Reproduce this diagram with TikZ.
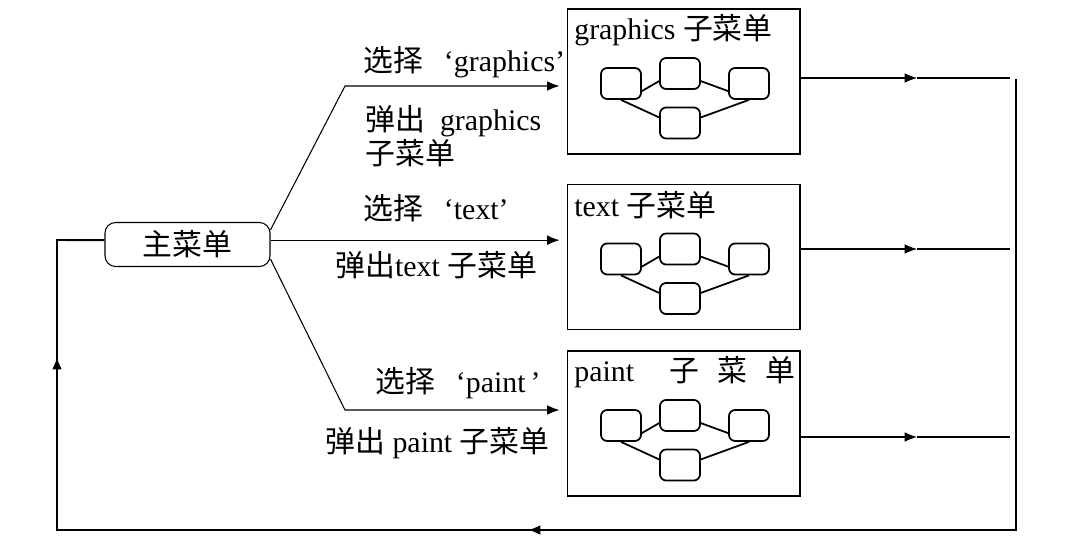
\documentclass[tikz,border=0pt]{standalone}
\usepackage{fontspec}
\setmainfont{Liberation Serif}
\newfontfamily\cjk{Noto Sans CJK SC}
\newcommand{\zh}[1]{{\cjk #1}}
\usetikzlibrary{calc,arrows.meta}

\begin{document}
\begin{tikzpicture}[x=0.02cm, y=-0.02cm,
	font=\fontsize{17}{19}\selectfont,
	menu/.style={draw, rounded corners=6pt, minimum width=3.3cm, minimum height=0.88cm, line width=0.6pt},
	sub/.style={draw, minimum width=4.66cm, minimum height=2.9cm, line width=0.6pt},
	item/.style={draw, rounded corners=3.5pt, minimum width=0.8cm, minimum height=0.62cm, line width=1pt},
	lbl/.style={anchor=west, inner sep=0pt},
	link/.style={line width=0.6pt},
	bus/.style={line width=1.1pt},
	tip/.style={-{Latex[length=7pt,width=5.5pt]}}]
		\useasboundingbox (0,0) rectangle (1069,545);
		% menus
		\node[menu] (main) at (187.5,244.5) {\zh{主菜单}};
		\node[sub] (gra) at (683.5,81.5) {};
		\node[sub] (txt) at (683.5,257) {};
		\node[sub] (pnt) at (683.5,423.5) {};
		\node[lbl] (gra-title) at (574,30) {graphics \zh{子菜单}};
		\node[lbl] (txt-title) at (574,205) {text \zh{子菜单}};
		\node[lbl] (pnt-title) at (574,372) {paint\hspace{1.2em}\zh{子\hspace{0.6em}菜\hspace{0.6em}单}};
		% small item boxes inside each submenu
		\foreach \b in {gra,txt,pnt} {
			\node[item] (\b-l) at ($(\b)+(-62.5,2)$) {};
			\node[item] (\b-t) at ($(\b)+(-3.5,-8)$) {};
			\node[item] (\b-r) at ($(\b)+(65.5,2)$) {};
			\node[item] (\b-d) at ($(\b)+(-3.5,41.5)$) {};
			\draw[line width=1pt] (\b-l.-20) -- (\b-t.200) (\b-t.-20) -- (\b-r.200)
				(\b-l.south) -- (\b-d.165) (\b-d.15) -- (\b-r.south);
		}
		% branches
		\coordinate (k1) at (345,86);
		\coordinate (k3) at (345,410);
		\draw[link,tip,shorten >=0.14cm] (main.10) -- (k1) -- (k1 -| gra.west);
		\draw[link,tip,shorten >=0.14cm] (main.3) -- (main.3 -| txt.west);
		\draw[link,tip,shorten >=0.14cm] (main.-10) -- (k3) -- (k3 -| pnt.west);
		\node[lbl] (sel1) at (363,62) {\zh{选择}\hspace{0.7em}‘graphics’};
		\node[lbl, align=left] (pop1) at (365,136) {\zh{弹出}\hspace{0.5em}graphics\\\zh{子菜单}};
		\node[lbl] (sel2) at (363,208) {\zh{选择}\hspace{0.7em}‘text’};
		\node[lbl] (pop2) at (335,265) {\zh{弹出}text \zh{子菜单}};
		\node[lbl] (sel3) at (375,383) {\zh{选择}\hspace{0.7em}‘paint\,’};
		\node[lbl] (pop3) at (325,443) {\zh{弹出} paint \zh{子菜单}};
		% return path
		\coordinate (arrX) at (917,0);
		\coordinate (o1) at (1010,78);
		\coordinate (o2) at (1010,249);
		\coordinate (o3) at (1010,437);
		\draw[link,tip] (o1 -| gra.east) -- (o1 -| arrX);
		\draw[bus] (o1 -| arrX) -- (o1);
		\draw[link,tip] (o2 -| txt.east) -- (o2 -| arrX);
		\draw[bus] (o2 -| arrX) -- (o2);
		\draw[link,tip] (o3 -| pnt.east) -- (o3 -| arrX);
		\draw[bus] (o3 -| arrX) -- (o3);
		\coordinate (busT) at (1016,79);
		\coordinate (busB) at (1016,530);
		\coordinate (fbL) at (57,530);
		\coordinate (fbT) at (57,240);
		\coordinate (arrB) at (528,530);
		\coordinate (arrL) at (57,357);
		\draw[bus] (busT) -- (busB) -- (fbL) -- (fbT) -- (main.177);
		\draw[bus,tip] (busB) -- (arrB);
		\draw[bus,tip] (fbL) -- (arrL);
	\end{tikzpicture}
\end{document}
